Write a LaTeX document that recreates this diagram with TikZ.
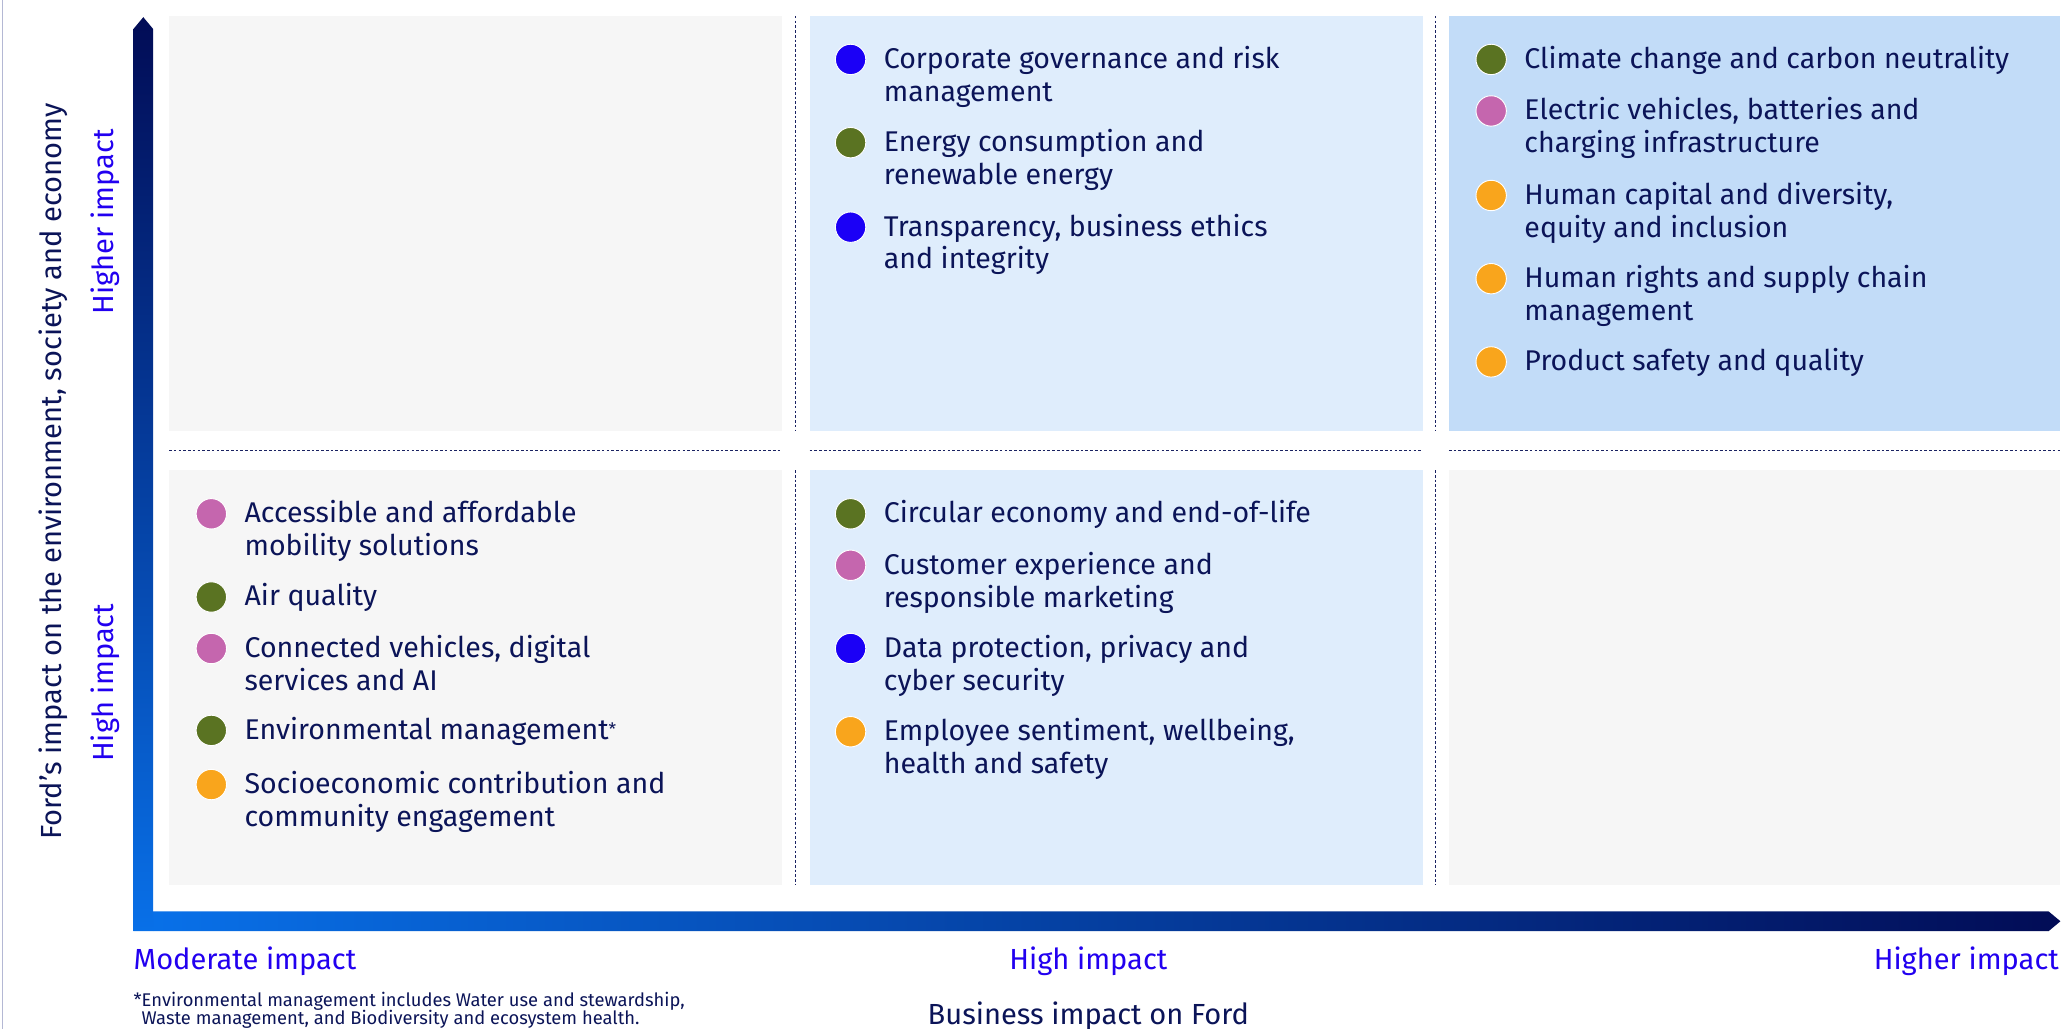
\documentclass[tikz,border=0pt]{standalone}
\usepackage{fontspec}
\setmainfont{Fira Sans}
\definecolor{navy}{HTML}{0B1458}
\definecolor{lblue}{HTML}{2200F0}
\definecolor{cgrey}{HTML}{F6F6F6}
\definecolor{cblue}{HTML}{DFEDFC}
\definecolor{cblueb}{HTML}{C2DCF8}
\definecolor{bblue}{HTML}{1B00F6}
\definecolor{bgreen}{HTML}{5A7322}
\definecolor{bpink}{HTML}{C566AE}
\definecolor{borange}{HTML}{F9A51C}
\definecolor{axdark}{HTML}{020C56}
\definecolor{axbright}{HTML}{0870E8}
\definecolor{dotc}{HTML}{1A2262}
\definecolor{edge}{HTML}{B4B8D4}
\begin{document}
\begin{tikzpicture}[x=1pt,y=-1pt,
  dotline/.style={draw=dotc, line width=0.9pt, dash pattern=on 2pt off 1.6pt},
  bul/.style={circle, draw=white, line width=0.7pt, minimum size=23pt, inner sep=0pt},
  itm/.style={anchor=base west, align=left, inner sep=0pt, text=navy, font=\fontsize{21.6}{24.8}\selectfont},
  axlab/.style={inner sep=0pt, text=lblue, font=\fontsize{22}{26}\selectfont},
  ttl/.style={inner sep=0pt, text=navy, font=\fontsize{22}{26}\selectfont}
]
\useasboundingbox (0,0) rectangle (1568,779);
\fill[white] (0,0) rectangle (1568,779);
\draw[edge, line width=1pt] (2,0) -- (2,779);

% cells
\fill[cgrey]  (128,12) rectangle (592,326);
\fill[cblue]  (613,12) rectangle (1077,326);
\fill[cblueb] (1097,12) rectangle (1560,326);
\fill[cgrey]  (128,356) rectangle (592,670);
\fill[cblue]  (613,356) rectangle (1077,670);
\fill[cgrey]  (1097,356) rectangle (1560,670);

% dotted separators
\coordinate (h1a) at (128,341); \coordinate (h1b) at (592,341);
\coordinate (h2a) at (613,341); \coordinate (h2b) at (1077,341);
\coordinate (h3a) at (1097,341); \coordinate (h3b) at (1560,341);
\draw[dotline] (h1a) -- (h1b);
\draw[dotline] (h2a) -- (h2b);
\draw[dotline] (h3a) -- (h3b);
\coordinate (v1a) at (602.5,12); \coordinate (v1b) at (602.5,326);
\coordinate (v1c) at (602.5,356); \coordinate (v1d) at (602.5,670);
\coordinate (v2a) at (1087,12); \coordinate (v2b) at (1087,326);
\coordinate (v2c) at (1087,356); \coordinate (v2d) at (1087,670);
\draw[dotline] (v1a) -- (v1b);
\draw[dotline] (v1c) -- (v1d);
\draw[dotline] (v2a) -- (v2b);
\draw[dotline] (v2c) -- (v2d);

% axes
\shade[left color=axbright, right color=axdark]
  (116,690) -- (1551,690) -- (1560,697.5) -- (1551,705) -- (116,705) -- cycle;
\shade[top color=axdark, bottom color=axbright]
  (101,705) -- (101,22) -- (108.5,13) -- (116,22) -- (116,705) -- cycle;

% axis labels
\node[ttl, rotate=90] (ylab) at (40,357) {Ford’s impact on the environment, society and economy};
\node[axlab, rotate=90] (yhigher) at (80,168) {Higher impact};
\node[axlab, rotate=90] (yhigh) at (80,517) {High impact};
\node[axlab, anchor=base west] (xmod) at (101,734) {Moderate impact};
\node[axlab, anchor=base] (xhigh) at (824,734) {High impact};
\node[axlab, anchor=base east] (xhigher) at (1559,734) {Higher impact};
\node[ttl, anchor=base] (xlab) at (824,775.5) {Business impact on Ford};
\node[inner sep=0pt, anchor=base west, align=left, text=navy, font=\fontsize{13.9}{14.2}\selectfont] (foot) at (101,776)
  {*Environmental management includes Water use and stewardship,\\\hspace*{6pt}Waste management, and Biodiversity and ecosystem health.};

% top-middle  (base anchor = baseline of last line)
\node[bul, fill=bblue]  (c1b) at (644,45) {};
\node[itm] (c1) at (669,76.6) {Corporate governance and risk\\management};
\node[bul, fill=bgreen] (c2b) at (644,108) {};
\node[itm] (c2) at (669,139.6) {Energy consumption and\\renewable energy};
\node[bul, fill=bblue]  (c3b) at (644,172) {};
\node[itm] (c3) at (669,203.6) {Transparency, business ethics\\and integrity};

% top-right
\node[bul, fill=bgreen]  (d1b) at (1129,45) {};
\node[itm] (d1) at (1154,51.8) {Climate change and carbon neutrality};
\node[bul, fill=bpink]   (d2b) at (1129,84) {};
\node[itm] (d2) at (1154,115.6) {Electric vehicles, batteries and\\charging infrastructure};
\node[bul, fill=borange] (d3b) at (1129,148) {};
\node[itm] (d3) at (1154,179.6) {Human capital and diversity,\\equity and inclusion};
\node[bul, fill=borange] (d4b) at (1129,211) {};
\node[itm] (d4) at (1154,242.6) {Human rights and supply chain\\management};
\node[bul, fill=borange] (d5b) at (1129,274) {};
\node[itm] (d5) at (1154,280.8) {Product safety and quality};

% bottom-left
\node[bul, fill=bpink]   (a1b) at (160,389) {};
\node[itm] (a1) at (185,420.6) {Accessible and affordable\\mobility solutions};
\node[bul, fill=bgreen]  (a2b) at (160,452) {};
\node[itm] (a2) at (185,458.8) {Air quality};
\node[bul, fill=bpink]   (a3b) at (160,491) {};
\node[itm] (a3) at (185,522.6) {Connected vehicles, digital\\services and AI};
\node[bul, fill=bgreen]  (a4b) at (160,553) {};
\node[itm] (a4) at (185,559.8) {Environmental management{\fontsize{13}{13}\selectfont\raisebox{3pt}{*}}};
\node[bul, fill=borange] (a5b) at (160,594) {};
\node[itm] (a5) at (185,625.6) {Socioeconomic contribution and\\community engagement};

% bottom-middle
\node[bul, fill=bgreen]  (b1b) at (644,389) {};
\node[itm] (b1) at (669,395.8) {Circular economy and end-of-life};
\node[bul, fill=bpink]   (b2b) at (644,428) {};
\node[itm] (b2) at (669,459.6) {Customer experience and\\responsible marketing};
\node[bul, fill=bblue]   (b3b) at (644,491) {};
\node[itm] (b3) at (669,522.6) {Data protection, privacy and\\cyber security};
\node[bul, fill=borange] (b4b) at (644,554) {};
\node[itm] (b4) at (669,585.6) {Employee sentiment, wellbeing,\\health and safety};
\end{tikzpicture}
\end{document}
